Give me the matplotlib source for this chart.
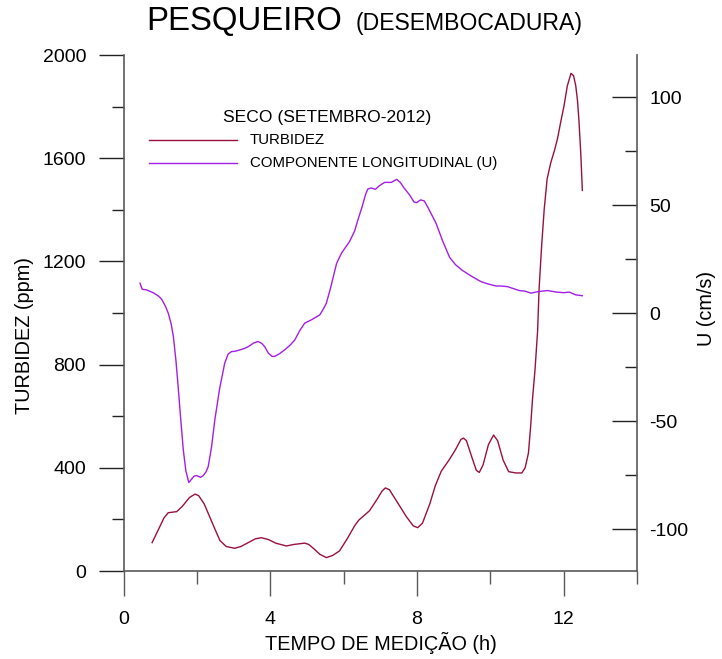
import matplotlib
matplotlib.use("Agg")
import matplotlib.pyplot as plt
from matplotlib.lines import Line2D
from matplotlib.ticker import MultipleLocator

plt.rcParams['font.family'] = ['Liberation Sans', 'DejaVu Sans']
plt.rcParams['axes.unicode_minus'] = False

# Turbidity (ppm) vs time (h)
t_turb = [0.78, 0.95, 1.10, 1.22, 1.45, 1.60, 1.80, 1.95, 2.05, 2.20, 2.35, 2.50, 2.63,
          2.80, 3.03, 3.20, 3.40, 3.60, 3.76, 3.95, 4.15, 4.44, 4.65, 4.94, 5.05, 5.20,
          5.35, 5.53, 5.70, 5.89, 6.10, 6.30, 6.42, 6.60, 6.71, 6.90, 7.05, 7.14, 7.25,
          7.45, 7.71, 7.90, 8.02, 8.15, 8.35, 8.50, 8.66, 8.88, 9.05, 9.20, 9.27, 9.35,
          9.50, 9.62, 9.70, 9.80, 9.95, 10.09, 10.20, 10.35, 10.50, 10.70, 10.86, 10.95,
          11.04, 11.10, 11.15, 11.22, 11.29, 11.33, 11.40, 11.47, 11.55, 11.65, 11.75,
          11.83, 11.92, 12.01, 12.10, 12.20, 12.27, 12.33, 12.38, 12.42, 12.47, 12.51]
turb = [110, 160, 205, 226, 230, 250, 285, 298, 292, 260, 210, 160, 118,
        95, 88, 95, 110, 125, 129, 122, 108, 97, 103, 108, 103, 85,
        65, 52, 60, 78, 125, 175, 198, 220, 234, 275, 310, 322, 315,
        270, 211, 175, 168, 185, 260, 330, 386, 431, 470, 510, 515, 505,
        440, 390, 382, 410, 490, 527, 505, 430, 385, 380, 380, 400,
        457, 560, 664, 781, 930, 1092, 1260, 1402, 1520, 1583, 1630,
        1674, 1740, 1803, 1880, 1929, 1920, 1881, 1820, 1739, 1610, 1475]

# Longitudinal component U (cm/s) vs time (h)
t_u = [0.45, 0.51, 0.63, 0.81, 0.95, 1.04, 1.15, 1.22, 1.30, 1.36, 1.43, 1.49, 1.56,
       1.63, 1.70, 1.78, 1.85, 1.92, 1.99, 2.10, 2.17, 2.25, 2.31, 2.40, 2.49, 2.62,
       2.76, 2.85, 2.94, 3.05, 3.17, 3.30, 3.40, 3.55, 3.67, 3.77, 3.85, 3.95, 4.05,
       4.12, 4.25, 4.39, 4.53, 4.67, 4.80, 4.94, 5.12, 5.35, 5.45, 5.53, 5.65, 5.81,
       5.95, 6.16, 6.30, 6.39, 6.50, 6.60, 6.66, 6.75, 6.87, 6.97, 7.12, 7.30, 7.45,
       7.55, 7.65, 7.80, 7.92, 7.99, 8.10, 8.20, 8.30, 8.52, 8.70, 8.89, 9.05, 9.25,
       9.50, 9.75, 9.95, 10.16, 10.30, 10.47, 10.65, 10.79, 10.95, 11.11, 11.30, 11.56,
       11.80, 12.01, 12.15, 12.33, 12.51]
u = [13.9, 11.1, 10.8, 9.5, 8.0, 6.5, 3.0, 0.0, -5.0, -10.8, -22.0, -34.0, -49.0,
     -63.3, -73.0, -78.4, -77.0, -75.5, -75.2, -76.0, -75.3, -73.5, -71.0, -62.0, -49.4, -35.0,
     -23.1, -19.0, -17.8, -17.6, -17.0, -16.3, -15.5, -13.8, -13.1, -14.0, -15.5, -18.5, -20.0,
     -20.0, -18.8, -17.0, -15.0, -12.4, -8.2, -4.6, -3.1, -0.8, 2.0, 4.6, 12.0, 23.1,
     28.0, 33.1, 38.0, 43.2, 49.0, 55.0, 57.5, 58.0, 57.4, 59.0, 60.6, 60.6, 62.0,
     60.5, 58.0, 54.8, 51.5, 51.2, 52.5, 52.0, 49.0, 41.7, 33.5, 25.9, 22.5, 19.7,
     17.0, 14.6, 13.5, 12.6, 12.6, 12.3, 11.3, 10.5, 10.2, 9.3, 10.0, 10.5,
     9.8, 9.5, 9.8, 8.5, 8.1]

x_major = [0, 4, 8, 12]
y_left_major = [0, 400, 800, 1200, 1600, 2000]
y_right_major = [-100, -50, 0, 50, 100]

c_turb = '#99103f'
c_u = '#a41ee8'
spine_c = '#5a5a5a'

fig = plt.figure(figsize=(7.22, 6.59), dpi=100)
L, R = 123.5 / 722, 637 / 722
B, T = 1 - 571 / 659, 1 - 55 / 659
ax = fig.add_axes([L, B, R - L, T - B])
ax2 = ax.twinx()

ax.plot(t_turb, turb, color=c_turb, lw=1.0, solid_joinstyle='round')
ax2.plot(t_u, u, color=c_u, lw=1.0, solid_joinstyle='round')

ax.set_xlim(0, 14)
ax.set_ylim(0, 2000)
ax2.set_ylim(-119.4, 119.6)

ax.set_xticks(x_major)
ax.xaxis.set_minor_locator(MultipleLocator(2))
ax.set_yticks(y_left_major)
ax.yaxis.set_minor_locator(MultipleLocator(200))
ax2.set_yticks(y_right_major)
ax2.yaxis.set_minor_locator(MultipleLocator(25))

for a in (ax, ax2):
    a.spines['top'].set_visible(False)
    for s in a.spines.values():
        s.set_color(spine_c)
        s.set_linewidth(1.2)
ax.spines['right'].set_visible(False)
ax2.spines['left'].set_visible(False)
ax2.spines['bottom'].set_visible(False)

ax.tick_params(axis='x', which='major', direction='out', length=18, width=1.0,
               color=spine_c, labelsize=14, pad=11)
ax.tick_params(axis='x', which='minor', direction='out', length=9, width=1.0, color=spine_c)
ax.tick_params(axis='y', which='major', direction='out', length=18, width=1.0,
               color='#222222', labelsize=14, pad=9)
ax.tick_params(axis='y', which='minor', direction='out', length=9, width=1.0, color='#222222')
ax2.tick_params(axis='y', which='major', direction='in', length=18, width=1.0,
                color='#222222', labelsize=14, pad=9)
ax2.tick_params(axis='y', which='minor', direction='in', length=9, width=1.0, color='#222222')

# Axis labels
fig.text(25 / 722, 1 - 335 / 659, 'TURBIDEZ (ppm)', rotation=90, ha='center', va='center', fontsize=14.3)
fig.text(707 / 722, 1 - 308 / 659, 'U (cm/s)', rotation=90, ha='center', va='center', fontsize=14.3)
fig.text(381 / 722, 1 - 643 / 659, 'TEMPO DE MEDIÇÃO (h)', ha='center', va='center', fontsize=14.3)

# Title
fig.text(146 / 722, 1 - 30 / 659, 'PESQUEIRO', ha='left', va='baseline', fontsize=23.8)
fig.text(356 / 722, 1 - 30 / 659, '(DESEMBOCADURA)', ha='left', va='baseline', fontsize=16.6)

# Legend
fig.text(327 / 722, 1 - 122 / 659, 'SECO (SETEMBRO-2012)', ha='center', va='baseline', fontsize=12.6)
for yy, col, lab in [(140, c_turb, 'TURBIDEZ'), (162.5, c_u, 'COMPONENTE LONGITUDINAL (U)')]:
    fig.add_artist(Line2D([149 / 722, 237 / 722], [1 - yy / 659, 1 - yy / 659],
                          transform=fig.transFigure, color=col, lw=1.0))
    fig.text(250 / 722, 1 - yy / 659, lab, ha='left', va='center', fontsize=10.8)

fig.savefig('out.png', dpi=100)
